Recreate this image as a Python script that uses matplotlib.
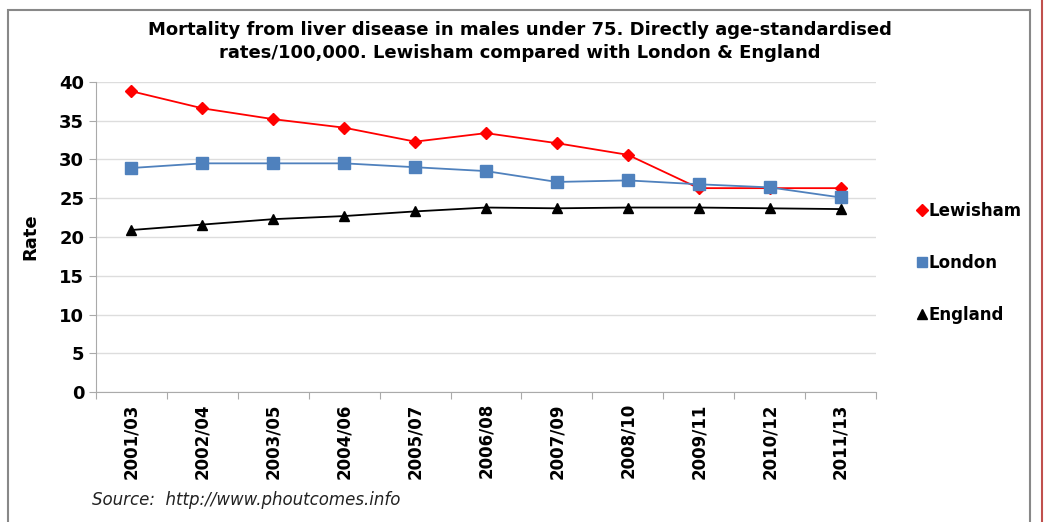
import matplotlib
matplotlib.use("Agg")
import matplotlib.pyplot as plt
from matplotlib.patches import Rectangle
from matplotlib.lines import Line2D

periods = ["2001/03", "2002/04", "2003/05", "2004/06", "2005/07", "2006/08",
           "2007/09", "2008/10", "2009/11", "2010/12", "2011/13"]
lewisham = [38.8, 36.6, 35.2, 34.1, 32.3, 33.4, 32.1, 30.6, 26.3, 26.3, 26.3]
london = [28.9, 29.5, 29.5, 29.5, 29.0, 28.5, 27.1, 27.3, 26.8, 26.4, 25.1]
england = [20.9, 21.6, 22.3, 22.7, 23.3, 23.8, 23.7, 23.8, 23.8, 23.7, 23.6]

plt.rcParams['font.family'] = 'DejaVu Sans'

fig = plt.figure(figsize=(10.46, 5.22), dpi=100)
ax = fig.add_axes([0.0918, 0.249, 0.7457, 0.594])

x = list(range(len(periods)))
ax.plot(x, lewisham, color="#ff0000", marker="D", markersize=6, lw=1.3, label="Lewisham")
ax.plot(x, london, color="#4f81bd", marker="s", markersize=8, lw=1.3, label="London")
ax.plot(x, england, color="black", marker="^", markersize=7, lw=1.3, label="England")

ax.set_xlim(-0.5, len(periods) - 0.5)
ax.set_ylim(0, 40)
ax.set_yticks(range(0, 41, 5))
ax.set_xticks([i - 0.5 for i in range(len(periods) + 1)], minor=False)
ax.set_xticklabels([])
ax.set_xticks(x, minor=True)
ax.set_xticklabels(periods, minor=True, rotation=90, fontsize=12, fontweight="bold")
ax.tick_params(axis="x", which="minor", length=0, pad=8)
ax.tick_params(axis="x", which="major", length=5, color="#aaaaaa", direction="out")
ax.tick_params(axis="y", length=5, color="#aaaaaa", labelsize=13)
for lbl in ax.get_yticklabels():
    lbl.set_fontweight("bold")
ax.grid(axis="y", color="#dddddd", lw=1)
ax.set_axisbelow(True)
for s in ["top", "right"]:
    ax.spines[s].set_visible(False)
ax.spines["left"].set_color("#aaaaaa")
ax.spines["bottom"].set_color("#aaaaaa")
ax.set_ylabel("Rate", fontsize=13, fontweight="bold", labelpad=14)

fig.suptitle("Mortality from liver disease in males under 75. Directly age-standardised\n"
             "rates/100,000. Lewisham compared with London & England",
             x=0.497, y=0.96, fontsize=13, fontweight="bold", linespacing=1.35)

handles = [
    Line2D([], [], color="#ff0000", marker="D", markersize=6, lw=0),
    Line2D([], [], color="#4f81bd", marker="s", markersize=7, lw=0),
    Line2D([], [], color="black", marker="^", markersize=7, lw=0),
]
fig.legend(handles, ["Lewisham", "London", "England"], loc="upper left",
           bbox_to_anchor=(0.862, 0.642), frameon=False, handlelength=0.6,
           handletextpad=0.1, labelspacing=2.05, prop={"weight": "bold", "size": 12})

fig.text(0.088, 0.032, "Source:  http://www.phoutcomes.info", fontsize=12,
         style="italic", color="#222222")

fig.patches.append(Rectangle((0.008, -0.1), 0.977, 1.08, transform=fig.transFigure,
                             fill=False, edgecolor="#888888", lw=1.5))
fig.add_artist(Line2D([0.9965, 0.9965], [0, 1], transform=fig.transFigure, color="#c0504d", lw=1.5))

fig.savefig("out.png", dpi=100)
